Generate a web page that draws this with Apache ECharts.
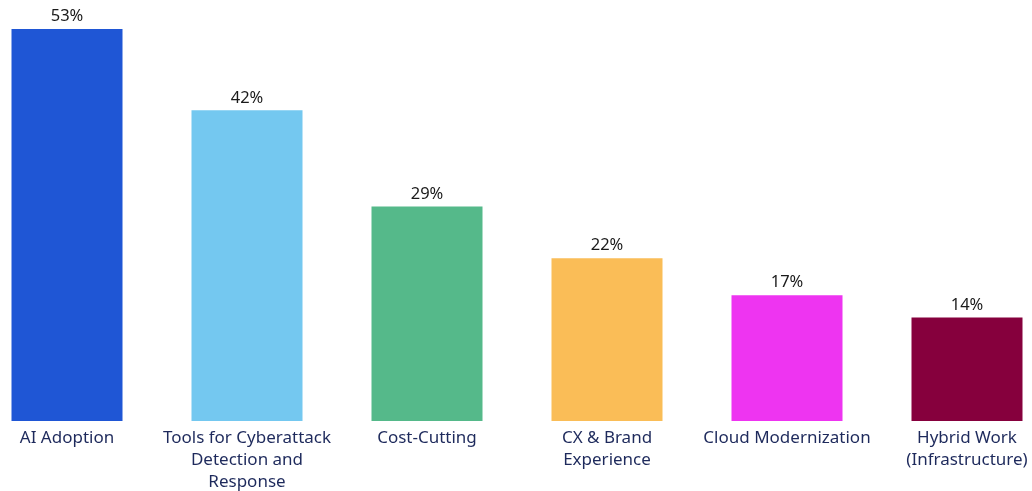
<!DOCTYPE html>
<html>
<head>
<meta charset="utf-8">
<script src="https://cdn.jsdelivr.net/npm/echarts@6/dist/echarts.min.js"></script>
<style>
  html, body { margin: 0; padding: 0; background: #ffffff; overflow: hidden; width: 1032px; height: 491px; }
  #chart { position: absolute; left: -23px; top: 0; width: 1080px; height: 491px; }
</style>
</head>
<body>
<div id="chart"></div>
<script>
// Share of respondents naming each priority
const categories = [
  'AI Adoption',
  'Tools for Cyberattack\nDetection and\nResponse',
  'Cost-Cutting',
  'CX & Brand\nExperience',
  'Cloud Modernization',
  'Hybrid Work\n(Infrastructure)'
];
const values = [53, 42, 29, 22, 17, 14];
const barColors = ['#1f56d5', '#74c8f0', '#55b98a', '#fabd57', '#ee34f1', '#86003d'];

const chart = echarts.init(document.getElementById('chart'), null, { renderer: 'canvas' });

chart.setOption({
  animation: false,
  backgroundColor: '#ffffff',
  grid: { left: 0, right: 0, top: 29, bottom: 70, containLabel: false, outerBoundsMode: 'none' },
  xAxis: {
    type: 'category',
    data: categories,
    axisLine: { show: false },
    axisTick: { show: false },
    axisLabel: {
      interval: 0,
      margin: 6,
      color: '#1e2a5c',
      fontFamily: 'Noto Sans',
      fontSize: 17,
      lineHeight: 22
    }
  },
  yAxis: {
    type: 'value',
    min: 0,
    max: 53,
    show: false,
    splitLine: { show: false }
  },
  series: [{
    type: 'bar',
    barWidth: 111,
    data: values.map((v, i) => ({ value: v, itemStyle: { color: barColors[i] } })),
    label: {
      show: true,
      position: 'top',
      distance: 4,
      formatter: '{c}%',
      color: '#1a1a1a',
      fontFamily: 'Noto Sans',
      fontSize: 16.5
    }
  }]
});
</script>
</body>
</html>
